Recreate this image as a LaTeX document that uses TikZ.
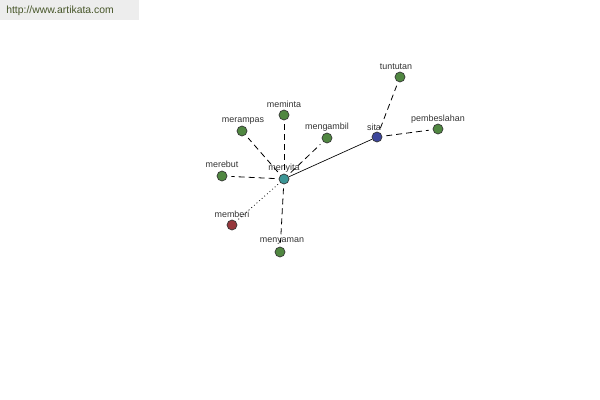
\documentclass[tikz,border=0pt]{standalone}
\usepackage{fontspec}
\setmainfont{Liberation Sans}
\begin{document}
\begin{tikzpicture}[x=0.75pt,y=-0.75pt,
  dot/.style={circle,draw=black!80,line width=0.5pt,minimum size=7.5pt,inner sep=0pt},
  lbl/.style={font=\fontsize{6.7}{8}\selectfont,text=black!80,inner sep=0pt},
  dline/.style={dashed,dash pattern=on 4.5pt off 3pt,line width=0.6pt,shorten <=3pt,shorten >=3pt},
  tline/.style={dotted,line width=0.6pt,shorten <=2pt,shorten >=2pt},
  sline/.style={line width=0.5pt}]
\useasboundingbox (0,0) rectangle (600,400);
\fill[black!7] (0,0) rectangle (139,20);
\node[font=\fontsize{7.8}{9}\selectfont,text={rgb,255:red,70;green,85;blue,40},anchor=west,inner sep=0pt] (url) at (6,11) {http://www.artikata.com};
\definecolor{gnode}{RGB}{80,135,65}
\definecolor{tnode}{RGB}{60,150,150}
\definecolor{bnode}{RGB}{60,70,155}
\definecolor{rnode}{RGB}{150,55,60}
\tikzset{gdot/.style={dot,fill=gnode}}
\node[dot,fill=tnode] (menyita) at (284,179) {};
\node[dot,fill=bnode] (sita) at (377,137) {};
\node[gdot] (tuntutan) at (400,77) {};
\node[gdot] (pembeslahan) at (438,129) {};
\node[gdot] (meminta) at (284,115) {};
\node[gdot] (merampas) at (242,131) {};
\node[gdot] (mengambil) at (327,138) {};
\node[gdot] (merebut) at (222,176) {};
\node[dot,fill=rnode] (memberi) at (232,225) {};
\node[gdot] (menyaman) at (280,252) {};
\node[lbl] (lmenyita) at (284,168) {menyita};
\node[lbl] (lsita) at (374,127) {sita};
\node[lbl] (ltuntutan) at (396,67) {tuntutan};
\node[lbl] (lpembeslahan) at (438,119) {pembeslahan};
\node[lbl] (lmeminta) at (284,104) {meminta};
\node[lbl] (lmerampas) at (243,121) {merampas};
\node[lbl] (lmengambil) at (327,127) {mengambil};
\node[lbl] (lmerebut) at (222,164) {merebut};
\node[lbl] (lmemberi) at (232,214) {memberi};
\node[lbl] (lmenyaman) at (282,241) {menyaman};
\draw[sline] (menyita) -- (sita);
\draw[dline] (sita) -- (tuntutan);
\draw[dline] (sita) -- (pembeslahan);
\draw[dline] (menyita) -- (meminta);
\draw[dline] (menyita) -- (merampas);
\draw[dline] (menyita) -- (mengambil);
\draw[dline] (menyita) -- (merebut);
\draw[dline] (menyita) -- (menyaman);
\draw[tline] (menyita) -- (memberi);
\end{tikzpicture}
\end{document}
